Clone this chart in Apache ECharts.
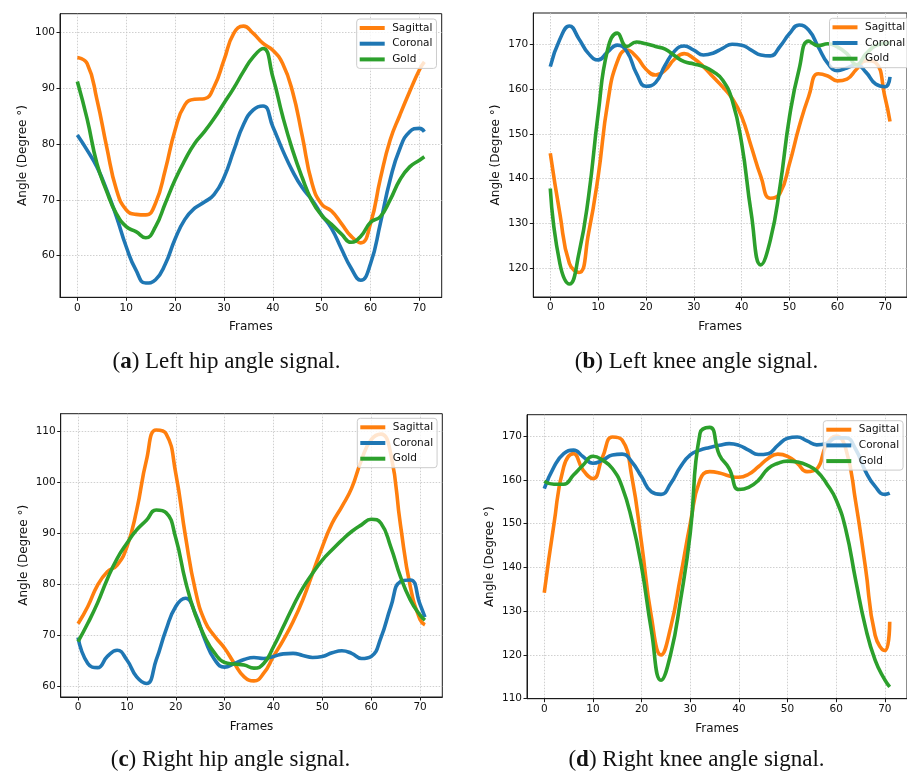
<!DOCTYPE html>
<html>
<head>
<meta charset="utf-8">
<script src="https://cdn.jsdelivr.net/npm/echarts@6/dist/echarts.min.js"></script>
<style>
  html, body { margin: 0; padding: 0; background: #fff; }
  #chart { width: 907px; height: 777px; }
</style>
</head>
<body>
<div id="chart"></div>
<script>
// Frame indices at which the joint angles are sampled
const frames = [0, 2, 4, 6, 8, 10, 12, 14, 16, 18, 20, 22, 24, 26, 28, 30, 32, 34,
  36, 38, 40, 42, 44, 46, 48, 50, 52, 54, 56, 58, 60, 62, 64, 66, 68, 70, 71];
const xTicks = [0, 10, 20, 30, 40, 50, 60, 70];
const seriesNames = ['Sagittal', 'Coronal', 'Gold'];

// (a) Left hip
const leftHipSagittal = [95.5, 94.4, 88.0, 79.5, 71.8, 68.2, 67.4, 67.3, 69.4, 75.4, 82.5, 87.0,
  88.0, 88.1, 90.3, 95.0, 99.8, 101.1, 99.8, 98.0, 96.8, 94.4, 89.5, 81.5, 73.0, 69.2, 68.0,
  65.8, 63.5, 62.3, 65.8, 73.8, 80.7, 85.2, 89.4, 93.3, 94.7];
const leftHipCoronal = [81.6, 78.9, 75.9, 71.8, 67.0, 61.6, 57.4, 55.1, 55.7, 58.5, 63.0, 66.5,
  68.5, 69.6, 71.0, 74.0, 78.8, 83.5, 86.1, 86.8, 83.1, 78.9, 75.2, 72.2, 70.0, 67.3, 64.9,
  61.3, 57.8, 55.6, 58.6, 65.8, 73.6, 79.2, 82.2, 82.8, 82.2];
const leftHipGold = [91.2, 84.5, 76.5, 71.5, 67.5, 65.2, 64.3, 63.2, 65.2, 69.4, 73.6, 77.1,
  80.1, 82.2, 84.6, 87.3, 90.0, 93.0, 95.6, 97.1, 92.0, 85.0, 79.0, 74.0, 69.8, 67.2, 65.6,
  63.9, 62.4, 63.5, 66.0, 67.0, 70.0, 73.6, 75.9, 77.1, 77.7];
const leftHipTicks = [60, 70, 80, 90, 100];

// (b) Left knee
const leftKneeSagittal = [145.7, 132.2, 121.0, 119.0, 127.8, 140.5, 157.0, 166.2, 168.8, 167.3,
  164.5, 163.2, 164.3, 166.8, 168.0, 166.9, 165.1, 162.8, 160.6, 158.0, 153.9, 147.2, 140.5,
  135.6, 136.7, 143.4, 151.6, 158.4, 163.5, 163.0, 161.9, 162.3, 164.5, 166.4, 166.0, 158.0, 152.8];
const leftKneeCoronal = [165.1, 171.2, 174.2, 171.3, 168.0, 166.6, 168.4, 169.9, 168.5, 163.6,
  160.7, 161.5, 165.4, 168.6, 169.7, 168.8, 167.7, 168.1, 169.2, 170.1, 169.9, 168.8, 167.7,
  167.5, 169.6, 172.5, 174.4, 173.3, 169.5, 165.8, 164.2, 164.8, 165.5, 163.8, 161.2, 160.6, 162.8];
const leftKneeGold = [137.8, 121.0, 116.4, 123.3, 136.0, 154.5, 169.0, 172.6, 169.6, 170.6,
  170.2, 169.6, 169.0, 167.5, 166.2, 165.7, 165.1, 164.0, 162.1, 157.6, 147.9, 132.2, 120.7,
  126.3, 138.2, 153.9, 164.5, 170.8, 169.8, 170.2, 169.5, 168.0, 165.5, 168.0, 169.8, 170.3, 170.4];
const leftKneeTicks = [120, 130, 140, 150, 160, 170];

// (c) Right hip
const rightHipSagittal = [72.2, 75.6, 79.8, 82.4, 83.7, 87.3, 94.5, 104.3, 110.2, 109.5, 101.7,
  89.3, 78.8, 72.6, 69.7, 67.4, 64.4, 61.8, 61.0, 62.5, 65.8, 69.0, 72.6, 76.9, 82.1, 87.3,
  91.9, 95.2, 98.8, 104.3, 108.3, 109.4, 105.5, 91.5, 79.5, 73.0, 72.0];
const rightHipCoronal = [69.5, 64.4, 63.6, 65.8, 67.0, 65.1, 61.8, 60.5, 65.1, 71.0, 75.6, 77.2,
  74.2, 69.0, 65.1, 63.7, 64.4, 65.2, 65.6, 65.4, 65.8, 66.3, 66.4, 66.0, 65.6, 65.8, 66.5,
  66.9, 66.4, 65.4, 65.8, 69.5, 75.5, 80.5, 80.8, 76.0, 73.5];
const rightHipGold = [68.7, 72.3, 76.3, 81.0, 85.0, 88.0, 90.6, 92.5, 94.5, 94.0, 89.0, 80.5,
  74.0, 69.5, 66.4, 64.6, 64.3, 64.1, 63.5, 64.4, 67.7, 71.6, 75.6, 79.2, 82.1, 84.7, 86.7,
  88.6, 90.3, 91.6, 92.7, 91.9, 87.3, 81.4, 76.9, 73.9, 72.9];
const rightHipTicks = [60, 70, 80, 90, 100, 110];

// (d) Right knee
const rightKneeSagittal = [134.2, 150.0, 163.0, 166.0, 162.2, 160.3, 165.3, 169.8, 169.1, 160.7,
  145.5, 128.8, 120.0, 126.4, 137.9, 150.0, 160.0, 161.9, 161.6, 160.9, 160.6, 161.3, 163.0,
  164.9, 165.9, 165.4, 163.8, 161.9, 162.5, 168.0, 170.0, 167.0, 155.0, 140.1, 124.5, 121.0, 127.6];
const rightKneeCoronal = [158.0, 163.0, 166.0, 166.8, 165.3, 163.8, 164.5, 165.7, 165.9, 164.1,
  160.7, 157.3, 156.7, 159.2, 163.0, 165.7, 166.8, 167.4, 167.9, 168.3, 167.9, 166.8, 165.8,
  166.0, 167.9, 169.5, 169.8, 168.9, 168.0, 168.3, 169.6, 169.6, 167.0, 162.0, 158.5, 156.7, 157.0];
const rightKneeGold = [159.7, 159.0, 159.0, 161.1, 163.4, 165.4, 164.5, 162.6, 158.4, 150.8,
  140.1, 125.7, 114.2, 120.3, 132.5, 147.8, 170.6, 172.0, 165.7, 162.6, 157.8, 158.3, 159.9,
  162.6, 163.8, 164.3, 164.1, 163.4, 162.0, 159.2, 155.4, 148.5, 137.1, 126.4, 118.8, 114.3, 112.7];
const rightKneeTicks = [110, 120, 130, 140, 150, 160, 170];

const colors = ['#ff7f0e', '#1f77b4', '#2ca02c'];
const sansFont = 'DejaVu Sans';

const panels = [
  { grid: { left: 60, right: 465.3, top: 13.7, bottom: 479.7 }, yMin: 52.55, yMax: 103.33,
    yTicks: leftHipTicks, data: [leftHipSagittal, leftHipCoronal, leftHipGold],
    legend: { left: 356.7, top: 19 } },
  { grid: { left: 533.3, right: -7.5, top: 13, bottom: 480 }, yMin: 113.5, yMax: 177.1,
    yTicks: leftKneeTicks, data: [leftKneeSagittal, leftKneeCoronal, leftKneeGold],
    legend: { left: 829.5, top: 18.3 } },
  { grid: { left: 60.7, right: 464.7, top: 413.7, bottom: 80 }, yMin: 57.84, yMax: 113.4,
    yTicks: rightHipTicks, data: [rightHipSagittal, rightHipCoronal, rightHipGold],
    legend: { left: 357.3, top: 418.3 } },
  { grid: { left: 527, right: -1.5, top: 414.7, bottom: 78.3 }, yMin: 110, yMax: 174.9,
    yTicks: rightKneeTicks, data: [rightKneeSagittal, rightKneeCoronal, rightKneeGold],
    legend: { left: 823.3, top: 420.7 } }
];

const captions = [
  { key: 'a', text: 'Left hip angle signal.', x: 226.5, y: 362 },
  { key: 'b', text: 'Left knee angle signal.', x: 696.5, y: 362 },
  { key: 'c', text: 'Right hip angle signal.', x: 230.5, y: 760 },
  { key: 'd', text: 'Right knee angle signal.', x: 696.5, y: 760 }
];

const spine = '#1a1a1a';
const gridLine = { show: true, lineStyle: { type: [1.5, 1.5], color: '#c4c4c4', width: 0.8 } };
const tickLabel = { fontSize: 10.5, color: '#111', fontFamily: sansFont };

const option = {
  animation: false,
  backgroundColor: '#fff',
  grid: panels.map(p => Object.assign({ show: true, borderColor: spine, borderWidth: 1,
    backgroundColor: 'transparent', containLabel: false }, p.grid)),
  xAxis: panels.map((p, i) => ({
    type: 'value', gridIndex: i, min: -3.55, max: 74.55,
    name: 'Frames', nameLocation: 'middle', nameGap: 24,
    nameTextStyle: { fontSize: 12, color: '#111', fontFamily: sansFont },
    axisLine: { show: true, onZero: false, lineStyle: { color: spine, width: 1 } },
    axisTick: { show: true, length: 3.5, customValues: xTicks, lineStyle: { color: spine } },
    axisLabel: Object.assign({ customValues: xTicks, margin: 5 }, tickLabel),
    splitLine: gridLine
  })),
  yAxis: panels.map((p, i) => ({
    type: 'value', gridIndex: i, min: p.yMin, max: p.yMax,
    name: 'Angle (Degree °)', nameLocation: 'middle', nameGap: 31, nameRotate: 90,
    nameTextStyle: { fontSize: 12, color: '#111', fontFamily: sansFont },
    axisLine: { show: true, onZero: false, lineStyle: { color: spine, width: 1 } },
    axisTick: { show: true, length: 3.5, customValues: p.yTicks, lineStyle: { color: spine } },
    axisLabel: Object.assign({ customValues: p.yTicks, margin: 5 }, tickLabel),
    splitLine: gridLine
  })),
  legend: panels.map(p => ({
    left: p.legend.left, top: p.legend.top, orient: 'vertical',
    data: seriesNames, icon: 'rect', itemWidth: 25, itemHeight: 4, itemGap: 3.7,
    selectedMode: false,
    textStyle: { fontSize: 10.5, color: '#111', fontFamily: sansFont, lineHeight: 12,
      padding: [0, 0, 0, 2.5] },
    backgroundColor: 'rgba(255,255,255,0.8)', borderColor: '#cccccc', borderWidth: 1,
    borderRadius: 3, padding: [3, 4, 3, 3]
  })),
  series: [],
  graphic: captions.map(c => ({
    type: 'text', x: c.x, y: c.y,
    style: {
      text: '({b|' + c.key + '}) ' + c.text,
      fontFamily: 'Liberation Serif', fontSize: 23, fill: '#111',
      align: 'center', verticalAlign: 'middle',
      rich: { b: { fontFamily: 'Liberation Serif', fontSize: 23, fontWeight: 'bold', fill: '#111' } }
    }
  }))
};

panels.forEach((p, i) => {
  p.data.forEach((values, k) => {
    option.series.push({
      type: 'line', name: seriesNames[k], xAxisIndex: i, yAxisIndex: i,
      data: frames.map((f, j) => [f, values[j]]),
      showSymbol: false, symbol: 'none', smooth: 0.5,
      color: colors[k],
      lineStyle: { color: colors[k], width: 3.6, join: 'round' },
      clip: true
    });
  });
});

const chart = echarts.init(document.getElementById('chart'), null, { renderer: 'canvas' });
chart.setOption(option);
</script>
</body>
</html>
